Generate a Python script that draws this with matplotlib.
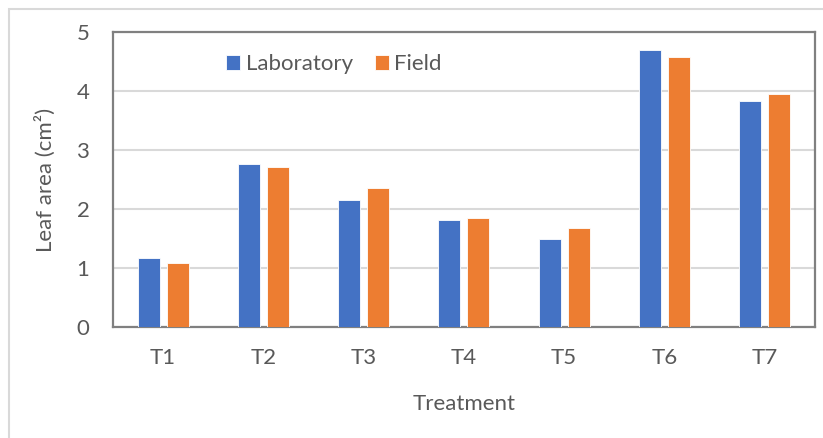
import numpy as np
import matplotlib
matplotlib.use("Agg")
from matplotlib import pyplot as plt
from matplotlib.patches import Rectangle

treatments = ["T1", "T2", "T3", "T4", "T5", "T6", "T7"]
laboratory = [1.17, 2.76, 2.16, 1.81, 1.49, 4.70, 3.83]
field = [1.09, 2.72, 2.36, 1.84, 1.68, 4.58, 3.95]

plt.rcParams['font.family'] = ['Lato', 'DejaVu Sans']
text_color = "#595959"
fs = 16

fig = plt.figure(figsize=(8.23, 4.38), dpi=100)
ax = fig.add_axes([0.1373, 0.2534, 0.8527, 0.6736])

# outer chart border (light gray, runs off right/bottom)
fig.patches.append(Rectangle((9 / 823, -0.1), 1.2, 1 - 9 / 438 + 0.1,
                             transform=fig.transFigure, fill=False,
                             edgecolor="#d9d9d9", linewidth=1.5))

x = np.arange(len(treatments))
w = 0.22
ax.bar(x - 0.145, laboratory, w, color="#4472C4", edgecolor="white",
       linewidth=0.6, label="Laboratory", zorder=3)
ax.bar(x + 0.145, field, w, color="#ED7D31", edgecolor="white",
       linewidth=0.6, label="Field", zorder=3)

ax.set_xlim(-0.5, len(treatments) - 0.5)
ax.set_ylim(0, 5)
ax.set_yticks(range(0, 6))
ax.set_xticks(x)
ax.set_xticklabels(treatments)
ax.yaxis.grid(True, color="#d9d9d9", linewidth=1.5, zorder=0)
ax.set_axisbelow(True)

for s in ax.spines.values():
    s.set_color("#808080")
    s.set_linewidth(1.6)

ax.tick_params(axis="both", length=0, labelsize=fs, colors=text_color)
ax.tick_params(axis="y", pad=17)
ax.tick_params(axis="x", pad=15)

ax.set_ylabel("Leaf area (cm²)", fontsize=fs, color=text_color, labelpad=15)
ax.set_xlabel("Treatment", fontsize=fs, color=text_color, labelpad=19)

ax.legend(loc="center left", bbox_to_anchor=(0.161, 0.89), ncol=2,
          frameon=False, fontsize=fs, handlelength=0.63, handleheight=0.63,
          handletextpad=0.25, columnspacing=1.0, borderpad=0,
          borderaxespad=0, labelcolor=text_color)

fig.savefig("out.png", dpi=100)
